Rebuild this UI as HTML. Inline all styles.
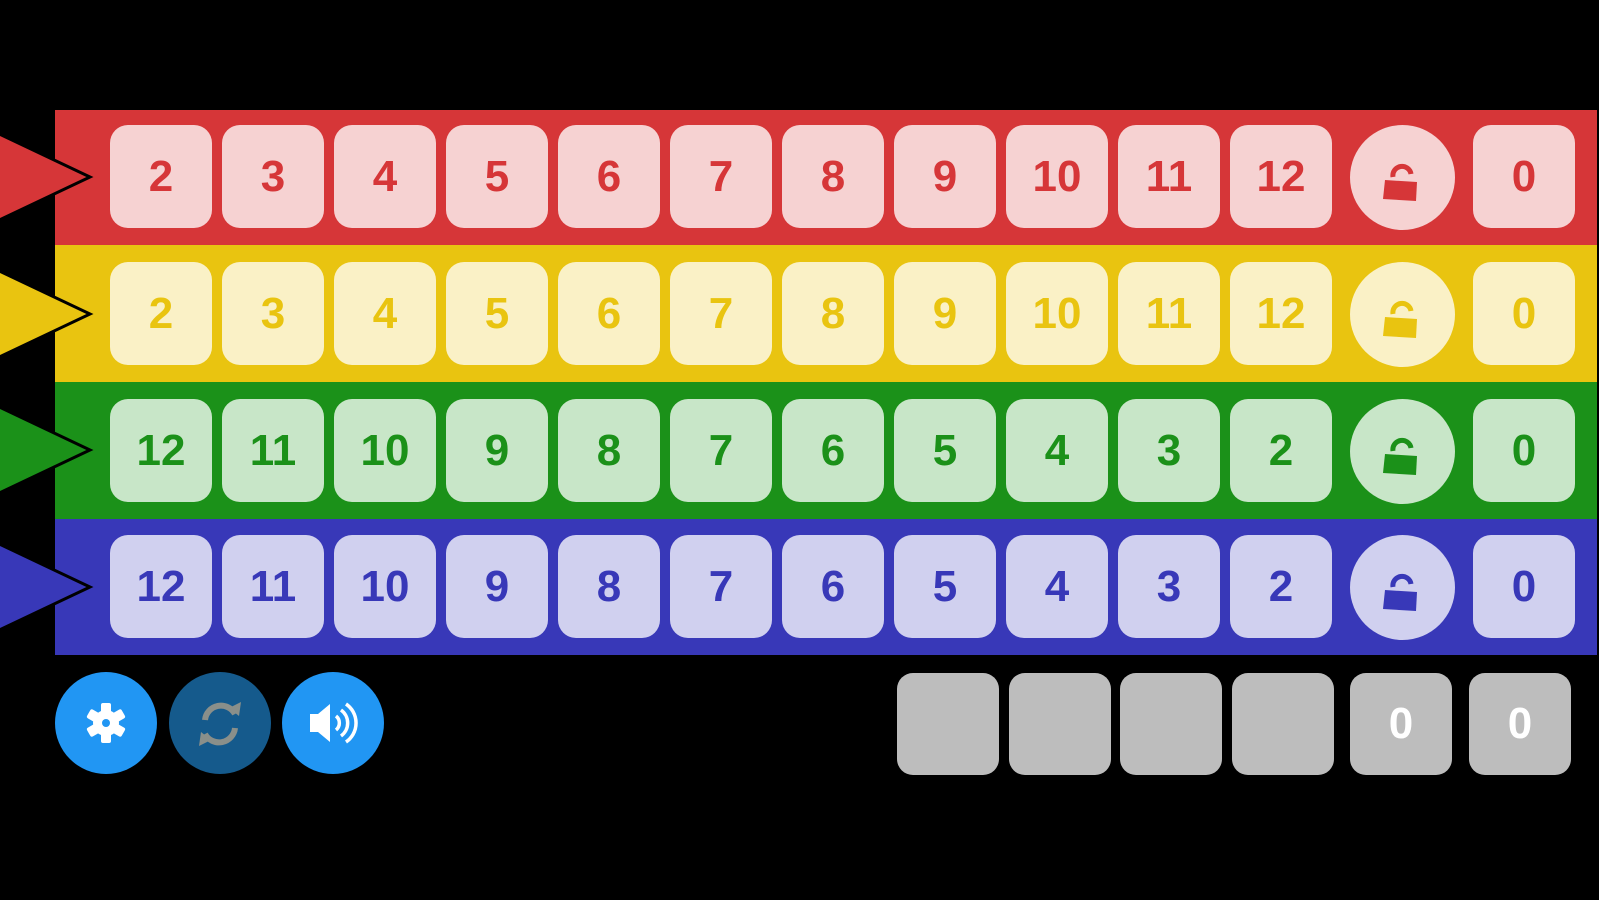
<!DOCTYPE html>
<html><head><meta charset="utf-8"><style>
html,body{margin:0;padding:0;background:#000;width:1599px;height:900px;overflow:hidden;font-family:"Liberation Sans",sans-serif}
.strip{position:absolute;left:55px;width:1542px}
.b{position:absolute;width:102px;height:103px;border-radius:18px;display:flex;align-items:center;justify-content:center;font-size:44px;font-weight:bold}
.c{position:absolute;width:105px;height:105px;border-radius:50%}
.g{position:absolute;top:673px;width:102px;height:102px;border-radius:16px;background:#bdbdbd;color:#fff;font-size:44px;font-weight:bold;display:flex;align-items:center;justify-content:center}
.btn{position:absolute;top:672px;width:102px;height:102px;border-radius:50%;background:#2196f3}
.r .b,.r .c{background:#f6d2d2;color:#d63638}
.y .b,.y .c{background:#faf1c6;color:#e9c410}
.gr .b,.gr .c{background:#c8e6c8;color:#1b9119}
.bl .b,.bl .c{background:#d0d0ef;color:#3838b8}
</style></head><body>

<div class="strip r" style="top:110px;height:135px;background:#d63638">
<div class="b" style="left:55px;top:15px">2</div><div class="b" style="left:167px;top:15px">3</div><div class="b" style="left:279px;top:15px">4</div><div class="b" style="left:391px;top:15px">5</div><div class="b" style="left:503px;top:15px">6</div><div class="b" style="left:615px;top:15px">7</div><div class="b" style="left:727px;top:15px">8</div><div class="b" style="left:839px;top:15px">9</div><div class="b" style="left:951px;top:15px">10</div><div class="b" style="left:1063px;top:15px">11</div><div class="b" style="left:1175px;top:15px">12</div>
<div class="c" style="left:1295px;top:15px"><svg width="105" height="105"><path d="M43 52 a9 9 0 0 1 18 -3" fill="none" stroke="#d63638" stroke-width="5"/><path d="M35 55 L67 57 L66 76 L33 74 Z" fill="#d63638"/></svg></div>
<div class="b" style="left:1418px;top:15px">0</div></div>

<div class="strip y" style="top:245px;height:137px;background:#e9c410">
<div class="b" style="left:55px;top:17px">2</div><div class="b" style="left:167px;top:17px">3</div><div class="b" style="left:279px;top:17px">4</div><div class="b" style="left:391px;top:17px">5</div><div class="b" style="left:503px;top:17px">6</div><div class="b" style="left:615px;top:17px">7</div><div class="b" style="left:727px;top:17px">8</div><div class="b" style="left:839px;top:17px">9</div><div class="b" style="left:951px;top:17px">10</div><div class="b" style="left:1063px;top:17px">11</div><div class="b" style="left:1175px;top:17px">12</div>
<div class="c" style="left:1295px;top:17px"><svg width="105" height="105"><path d="M43 52 a9 9 0 0 1 18 -3" fill="none" stroke="#e9c410" stroke-width="5"/><path d="M35 55 L67 57 L66 76 L33 74 Z" fill="#e9c410"/></svg></div>
<div class="b" style="left:1418px;top:17px">0</div></div>

<div class="strip gr" style="top:382px;height:137px;background:#1b9119">
<div class="b" style="left:55px;top:17px">12</div><div class="b" style="left:167px;top:17px">11</div><div class="b" style="left:279px;top:17px">10</div><div class="b" style="left:391px;top:17px">9</div><div class="b" style="left:503px;top:17px">8</div><div class="b" style="left:615px;top:17px">7</div><div class="b" style="left:727px;top:17px">6</div><div class="b" style="left:839px;top:17px">5</div><div class="b" style="left:951px;top:17px">4</div><div class="b" style="left:1063px;top:17px">3</div><div class="b" style="left:1175px;top:17px">2</div>
<div class="c" style="left:1295px;top:17px"><svg width="105" height="105"><path d="M43 52 a9 9 0 0 1 18 -3" fill="none" stroke="#1b9119" stroke-width="5"/><path d="M35 55 L67 57 L66 76 L33 74 Z" fill="#1b9119"/></svg></div>
<div class="b" style="left:1418px;top:17px">0</div></div>

<div class="strip bl" style="top:519px;height:136px;background:#3838b8">
<div class="b" style="left:55px;top:16px">12</div><div class="b" style="left:167px;top:16px">11</div><div class="b" style="left:279px;top:16px">10</div><div class="b" style="left:391px;top:16px">9</div><div class="b" style="left:503px;top:16px">8</div><div class="b" style="left:615px;top:16px">7</div><div class="b" style="left:727px;top:16px">6</div><div class="b" style="left:839px;top:16px">5</div><div class="b" style="left:951px;top:16px">4</div><div class="b" style="left:1063px;top:16px">3</div><div class="b" style="left:1175px;top:16px">2</div>
<div class="c" style="left:1295px;top:16px"><svg width="105" height="105"><path d="M43 52 a9 9 0 0 1 18 -3" fill="none" stroke="#3838b8" stroke-width="5"/><path d="M35 55 L67 57 L66 76 L33 74 Z" fill="#3838b8"/></svg></div>
<div class="b" style="left:1418px;top:16px">0</div></div>

<svg width="100" height="660" style="position:absolute;left:0;top:0;z-index:5">
<polygon points="-5,132 90,177 -5,222" fill="#d63638" stroke="#000" stroke-width="3"/>
<polygon points="-5,269 90,314 -5,359" fill="#e9c410" stroke="#000" stroke-width="3"/>
<polygon points="-5,405 90,450 -5,495" fill="#1b9119" stroke="#000" stroke-width="3"/>
<polygon points="-5,542 90,587 -5,632" fill="#3838b8" stroke="#000" stroke-width="3"/>
</svg>

<div class="btn" style="left:55px"><svg width="102" height="102"><g transform="translate(51,51)" fill="#fff"><circle r="13"/><rect x="-5" y="-20" width="10" height="40" rx="2"/><rect x="-5" y="-20" width="10" height="40" rx="2" transform="rotate(60)"/><rect x="-5" y="-20" width="10" height="40" rx="2" transform="rotate(120)"/><circle r="4" fill="#2196f3"/></g></svg></div>
<div class="btn" style="left:169px;background:#155a8c"><svg width="102" height="102"><g fill="none" stroke="#8a8f8a" stroke-width="6"><path d="M36 48 a16 16 0 0 1 30 -6"/><path d="M66 56 a16 16 0 0 1 -30 6"/></g><path d="M60 36 L70 44 L72 30 Z" fill="#8a8f8a"/><path d="M42 68 L32 60 L30 74 Z" fill="#8a8f8a"/></svg></div>
<div class="btn" style="left:282px"><svg width="102" height="102"><path d="M28 42 L36 42 L48 32 L48 70 L36 60 L28 60 Z" fill="#fff"/><g fill="none" stroke="#fff" stroke-width="3.5"><path d="M54 44 a9 9 0 0 1 0 14"/><path d="M59 38 a16 16 0 0 1 0 26"/><path d="M64 32 a23 23 0 0 1 0 38"/></g></svg></div>

<div class="g" style="left:897px"></div>
<div class="g" style="left:1009px"></div>
<div class="g" style="left:1120px"></div>
<div class="g" style="left:1232px"></div>
<div class="g" style="left:1350px">0</div>
<div class="g" style="left:1469px">0</div>
</body></html>
